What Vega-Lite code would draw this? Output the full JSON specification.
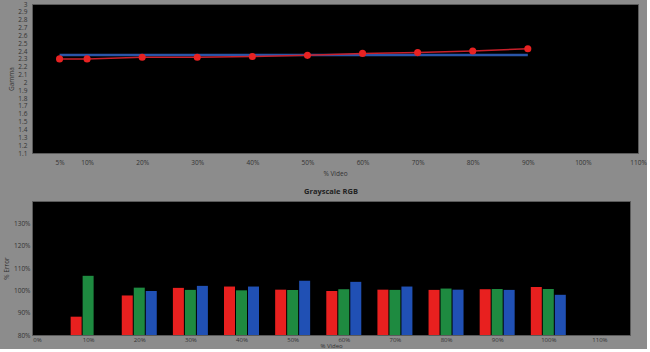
{
  "$schema": "https://vega.github.io/schema/vega-lite/v6.json",
  "background": "#8c8c8c",
  "padding": {"left": 2, "top": 0, "right": 0, "bottom": 0},
  "spacing": 9,
  "bounds": "full",
  "center": false,
  "config": {
    "font": "Open Sans",
    "view": {"fill": "#000000", "stroke": "#5a5a5a"},
    "axis": {
      "labelFont": "Open Sans", "labelFontSize": 6.5, "labelColor": "#333333",
      "titleFont": "Open Sans", "titleFontSize": 6.5, "titleFontWeight": "normal", "titleColor": "#333333",
      "ticks": false, "domain": false, "grid": false, "labelOverlap": false, "labelFlush": false
    },
    "title": {"font": "Open Sans", "fontSize": 7.5, "fontWeight": "bold", "color": "#222222"}
  },
  "datasets": {
    "gamma": [
      {"video": 5, "gamma": 2.30, "target": 2.35},
      {"video": 10, "gamma": 2.30, "target": 2.35},
      {"video": 20, "gamma": 2.32, "target": 2.35},
      {"video": 30, "gamma": 2.32, "target": 2.35},
      {"video": 40, "gamma": 2.33, "target": 2.35},
      {"video": 50, "gamma": 2.345, "target": 2.35},
      {"video": 60, "gamma": 2.37, "target": 2.35},
      {"video": 70, "gamma": 2.38, "target": 2.35},
      {"video": 80, "gamma": 2.40, "target": 2.35},
      {"video": 90, "gamma": 2.43, "target": 2.35}
    ],
    "rgb": [
      {"video": 10, "ch": "R", "error": 88.2},
      {"video": 10, "ch": "G", "error": 106.5},
      {"video": 20, "ch": "R", "error": 97.7},
      {"video": 20, "ch": "G", "error": 101.2},
      {"video": 20, "ch": "B", "error": 99.7},
      {"video": 30, "ch": "R", "error": 101.1},
      {"video": 30, "ch": "G", "error": 100.2},
      {"video": 30, "ch": "B", "error": 102.0},
      {"video": 40, "ch": "R", "error": 101.7},
      {"video": 40, "ch": "G", "error": 100.0},
      {"video": 40, "ch": "B", "error": 101.7},
      {"video": 50, "ch": "R", "error": 100.3},
      {"video": 50, "ch": "G", "error": 100.2},
      {"video": 50, "ch": "B", "error": 104.3},
      {"video": 60, "ch": "R", "error": 99.7},
      {"video": 60, "ch": "G", "error": 100.5},
      {"video": 60, "ch": "B", "error": 103.8},
      {"video": 70, "ch": "R", "error": 100.3},
      {"video": 70, "ch": "G", "error": 100.2},
      {"video": 70, "ch": "B", "error": 101.7},
      {"video": 80, "ch": "R", "error": 100.2},
      {"video": 80, "ch": "G", "error": 100.8},
      {"video": 80, "ch": "B", "error": 100.3},
      {"video": 90, "ch": "R", "error": 100.5},
      {"video": 90, "ch": "G", "error": 100.6},
      {"video": 90, "ch": "B", "error": 100.2},
      {"video": 100, "ch": "R", "error": 101.5},
      {"video": 100, "ch": "G", "error": 100.6},
      {"video": 100, "ch": "B", "error": 98.0}
    ]
  },
  "vconcat": [
    {
      "width": 606,
      "height": 149,
      "data": {"name": "gamma"},
      "encoding": {
        "x": {
          "field": "video", "type": "quantitative",
          "scale": {"domain": [0, 110], "nice": false},
          "axis": {"values": [5, 10, 20, 30, 40, 50, 60, 70, 80, 90, 100, 110], "labelExpr": "datum.value + '%'", "title": "% Video", "labelPadding": 6, "titlePadding": 5, "labelFlush": false}
        },
        "y": {
          "field": "target", "type": "quantitative",
          "scale": {"domain": [1.1, 3.0], "nice": false, "zero": false},
          "axis": {"values": [1.1, 1.2, 1.3, 1.4, 1.5, 1.6, 1.7, 1.8, 1.9, 2, 2.1, 2.2, 2.3, 2.4, 2.5, 2.6, 2.7, 2.8, 2.9, 3], "format": "~g", "title": "Gamma", "labelPadding": 5, "titlePadding": 3, "labelOverlap": false}
        }
      },
      "layer": [
        {
          "mark": {"type": "line", "color": "#2a55a8", "strokeWidth": 2.5}
        },
        {
          "mark": {"type": "line", "color": "#c8202a", "strokeWidth": 1.5},
          "encoding": {"y": {"field": "gamma", "type": "quantitative"}}
        },
        {
          "mark": {"type": "circle", "color": "#e82222", "size": 50, "opacity": 1},
          "encoding": {"y": {"field": "gamma", "type": "quantitative"}}
        }
      ]
    },
    {
      "title": {"text": "Grayscale RGB", "offset": 6},
      "width": 598,
      "height": 134,
      "data": {"name": "rgb"},
      "encoding": {
        "x": {
          "field": "video", "type": "quantitative",
          "scale": {"domain": [0, 115], "nice": false},
          "axis": {"values": [0, 10, 20, 30, 40, 50, 60, 70, 80, 90, 100, 110], "labelExpr": "datum.value + '%'", "title": "% Video", "labelPadding": 1, "titlePadding": 0.5, "labelFontSize": 6, "titleFontSize": 6, "labelFlush": false}
        },
        "y": {
          "field": "error", "type": "quantitative",
          "scale": {"domain": [80, 140], "nice": false, "zero": false},
          "axis": {"values": [80, 90, 100, 110, 120, 130], "labelExpr": "datum.value + '%'", "title": "% Error", "labelPadding": 2, "titlePadding": 4}
        },
        "y2": {"datum": 80}
      },
      "layer": [
        {
          "transform": [{"filter": "datum.ch === 'R'"}],
          "mark": {"type": "bar", "width": 11, "xOffset": -12, "color": "#e8201f"}
        },
        {
          "transform": [{"filter": "datum.ch === 'G'"}],
          "mark": {"type": "bar", "width": 11, "xOffset": 0, "color": "#1e8a40"}
        },
        {
          "transform": [{"filter": "datum.ch === 'B'"}],
          "mark": {"type": "bar", "width": 11, "xOffset": 12, "color": "#2050b4"}
        }
      ]
    }
  ]
}
